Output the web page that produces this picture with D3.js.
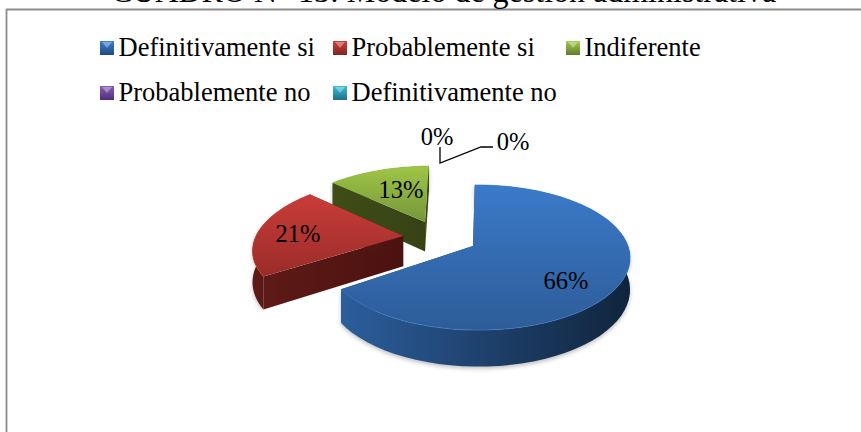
<!DOCTYPE html>
<html><head><meta charset="utf-8">
<script src="https://cdn.jsdelivr.net/npm/d3@7"></script>
<style>html,body{margin:0;padding:0;background:#fff}svg{display:block}text{font-family:"Liberation Serif",serif;fill:#000}</style>
</head><body><svg id="c" width="861" height="432"></svg>
<script>
const categories=["Definitivamente si","Probablemente si","Indiferente","Probablemente no","Definitivamente no"];
const values=[66,21,13,0,0];
const labels=["66%","21%","13%","0%","0%"];
const titleText="CUADRO N° 13: Modelo de gestión administrativa";
const topColors=[["#3b7ac9","#2d5c98"],["#c93c38","#9a2c29"],["#9fc546","#76963a"]];
const wallColors=[["#2c5e9c","#10243c"],["#5e1a16","#4a1210"],["#3f4d18","#364214"]];
const legendColors=[["#3f7fd0","#1f4a80"],["#d0403c","#7e2421"],["#a8cc4c","#5f7a2a"],["#8a5cb8","#4f2f78"],["#3cc0dc","#1c7088"]];

const svg=d3.select("#c"),defs=svg.append("defs");
// projective tilt of the pie plane
const C=-0.154,AY=35,BY=246,CX=473,KX=155,DEPTH=31,START=-1*Math.PI/180;
const proj=(X,Y,z=0)=>{const w=1+C*Y;return [CX+KX*X/w,(AY*Y+BY)/w+z*DEPTH/w];};
const line=d3.line();
const apexes=[[0,0],[-.46,-.14],[-.326,-.347]];
const rimCentres=[[.03,.01],[-.46,-.14],[-.326,-.347]];
const radii=[.97,.97,.97];
const pie=d3.pie().sort(null).startAngle(START).endAngle(START+2*Math.PI)(values);

defs.append("filter").attr("id","sh").attr("x","-10%").attr("y","-10%").attr("width","120%").attr("height","125%")
  .append("feGaussianBlur").attr("stdDeviation",2);
const grad=(id,cols,x2,y2)=>{const g=defs.append("linearGradient").attr("id",id).attr("x1",0).attr("y1",0).attr("x2",x2).attr("y2",y2);
  g.append("stop").attr("offset",0).attr("stop-color",cols[0]);g.append("stop").attr("offset",1).attr("stop-color",cols[1]);};
topColors.forEach((c,i)=>grad("t"+i,c,0,1));
wallColors.forEach((c,i)=>grad("w"+i,c,1,0));
legendColors.forEach((c,i)=>grad("l"+i,c,0,1));

// frame
svg.append("path").attr("d","M6.5 432V9.5H861").attr("fill","none").attr("stroke","#8c8c8c").attr("stroke-width",1.8);

// title (cut by the top edge, as in the reference)
svg.append("text").attr("x",443.5).attr("y",1.5).attr("text-anchor","middle").attr("font-size",32).text(titleText);

// legend
const legendPos=[[100,48],[333,48],[566,48],[100,93],[333,93]];
categories.forEach((c,i)=>{
  const [x,y]=legendPos[i];
  svg.append("rect").attr("x",x).attr("y",y-7).attr("width",14).attr("height",14).attr("fill",`url(#l${i})`);
  svg.append("path").attr("d",line([[x+2,y-6],[x+12,y-6],[x+7,y]])).attr("fill","#fff").attr("opacity",.35);
  svg.append("text").attr("x",x+18.5).attr("y",y+8).attr("font-size",26.5).text(c);
});

// slices, back to front
[2,1,0].forEach(i=>{
  const p=pie[i],[ax,ay]=apexes[i],[cx,cy]=rimCentres[i],r=radii[i];
  const rim=(t,z)=>proj(cx+r*Math.sin(t),cy-r*Math.cos(t),z);
  const ts=d3.range(0,61).map(k=>p.startAngle+(p.endAngle-p.startAngle)*k/60);
  const top=[proj(ax,ay,0),...ts.map(t=>rim(t,0))];
  const g=svg.append("g");
  const outer=[...ts.map(t=>rim(t,0)),...ts.slice().reverse().map(t=>rim(t,1))];
  const w0=[proj(ax,ay,0),rim(p.startAngle,0),rim(p.startAngle,1),proj(ax,ay,1)];
  const w1=[proj(ax,ay,0),rim(p.endAngle,0),rim(p.endAngle,1),proj(ax,ay,1)];
  g.append("path").attr("d",line(outer)+"Z").attr("fill","#888").attr("opacity",.55).attr("filter","url(#sh)").attr("transform","translate(0,2)");
  g.append("path").attr("d",line(w0)+"Z").attr("fill",`url(#w${i})`);
  g.append("path").attr("d",line(w1)+"Z").attr("fill",`url(#w${i})`);
  g.append("path").attr("d",line(outer)+"Z").attr("fill",`url(#w${i})`);
  g.append("path").attr("d",line(top)+"Z").attr("fill",`url(#t${i})`);
  g.append("path").attr("d",line(ts.map(t=>rim(t,0)))).attr("fill","none").attr("stroke",topColors[i][0]).attr("stroke-width",1).attr("opacity",.7);
});

// leader lines
svg.append("path").attr("d",line([[440,147],[440,163],[481,147],[493,147]])).attr("fill","none").attr("stroke","#000").attr("stroke-width",1.3);

// data labels
const labelPos=[[566,281],[298,234],[401,190],[437,137],[513,142]];
labels.forEach((t,i)=>svg.append("text").attr("x",labelPos[i][0]).attr("y",labelPos[i][1]+8).attr("text-anchor","middle").attr("font-size",24.5).text(t));
</script></body></html>
